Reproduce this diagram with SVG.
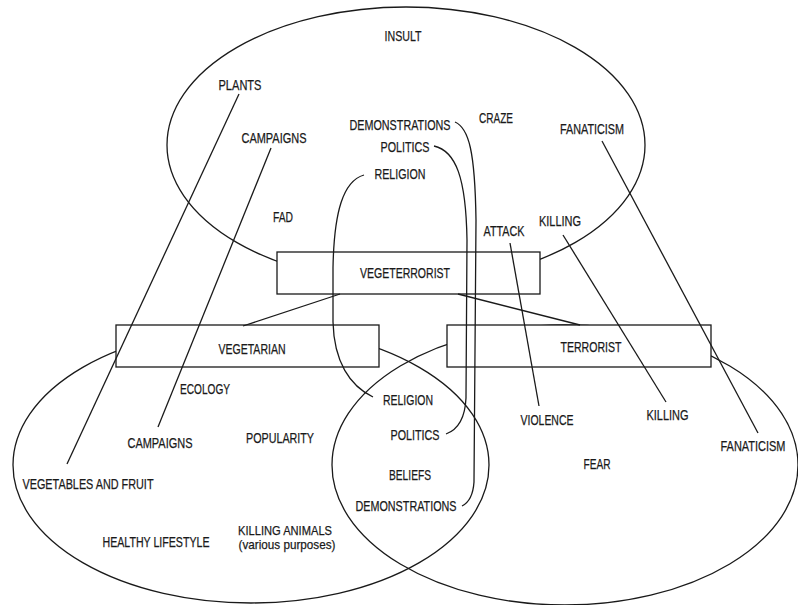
<svg xmlns="http://www.w3.org/2000/svg" width="798" height="605" viewBox="0 0 798 605">
  <style>
    .shape { fill: none; stroke: #1a1a1a; stroke-width: 1.3; }
    .box { fill: #ffffff; stroke: #1a1a1a; stroke-width: 1.3; }
    .link { fill: none; stroke: #1a1a1a; stroke-width: 1.3; }
    text { font-family: "Liberation Sans", Arial, sans-serif; font-size: 14px; fill: #1a1a1a; stroke: #1a1a1a; stroke-width: 0.25; text-anchor: middle; }
    .note { font-size: 13.5px; }
  </style>
  <rect width="798" height="605" fill="#ffffff"/>

  <!-- association fields -->
  <g id="field-vegeterrorist">
    <ellipse class="shape" cx="406" cy="145" rx="239" ry="138"/>
  </g>
  <g id="field-vegetarian">
    <ellipse class="shape" cx="251" cy="465" rx="238" ry="138"/>
  </g>
  <g id="field-terrorist">
    <ellipse class="shape" cx="565" cy="465" rx="233" ry="140"/>
  </g>

  <!-- central concepts -->
  <g id="node-vegeterrorist">
    <rect class="box" x="277" y="252" width="263" height="42"/>
    <text x="405" y="278" textLength="90" lengthAdjust="spacingAndGlyphs">VEGETERRORIST</text>
  </g>
  <g id="node-vegetarian">
    <rect class="box" x="116" y="325" width="263" height="42"/>
    <text x="252" y="354" textLength="67" lengthAdjust="spacingAndGlyphs">VEGETARIAN</text>
  </g>
  <g id="node-terrorist">
    <rect class="box" x="447" y="325" width="264" height="42"/>
    <text x="591" y="352" textLength="61" lengthAdjust="spacingAndGlyphs">TERRORIST</text>
  </g>

  <!-- connectors -->
  <g id="connectors">
    <line class="link" x1="340" y1="294" x2="243" y2="326"/>
    <line class="link" x1="458" y1="294" x2="580" y2="325"/>
    <line class="link" x1="239" y1="94" x2="67" y2="464"/>
    <line class="link" x1="271" y1="148" x2="158" y2="427"/>
    <line class="link" x1="602" y1="141" x2="758" y2="433"/>
    <line class="link" x1="563" y1="235" x2="666" y2="402"/>
    <line class="link" x1="510" y1="243" x2="539" y2="406"/>
    <path class="link" d="M364,175 C343,181 334,212 333,268 L333,322 C334,362 350,386 373,397"/>
    <path class="link" d="M434,146 C456,151 466,178 467,240 L466,398 C465,420 457,430 446,434"/>
    <path class="link" d="M455,122 C469,128 475,152 476,220 L474,482 C473,497 468,503 462,506"/>
  </g>

  <!-- labels -->
  <g id="labels-upper">
    <text x="403" y="40.5" textLength="37" lengthAdjust="spacingAndGlyphs">INSULT</text>
    <text x="240" y="90" textLength="43" lengthAdjust="spacingAndGlyphs">PLANTS</text>
    <text x="274" y="142.5" textLength="65" lengthAdjust="spacingAndGlyphs">CAMPAIGNS</text>
    <text x="400" y="130" textLength="101" lengthAdjust="spacingAndGlyphs">DEMONSTRATIONS</text>
    <text x="496" y="122.5" textLength="34" lengthAdjust="spacingAndGlyphs">CRAZE</text>
    <text x="405" y="151.5" textLength="49" lengthAdjust="spacingAndGlyphs">POLITICS</text>
    <text x="400" y="179" textLength="51" lengthAdjust="spacingAndGlyphs">RELIGION</text>
    <text x="283" y="221.5" textLength="20" lengthAdjust="spacingAndGlyphs">FAD</text>
    <text x="504" y="236" textLength="41" lengthAdjust="spacingAndGlyphs">ATTACK</text>
    <text x="560" y="226" textLength="42" lengthAdjust="spacingAndGlyphs">KILLING</text>
    <text x="592" y="134" textLength="64" lengthAdjust="spacingAndGlyphs">FANATICISM</text>
  </g>
  <g id="labels-vegetarian">
    <text x="205" y="394" textLength="50" lengthAdjust="spacingAndGlyphs">ECOLOGY</text>
    <text x="160" y="447.5" textLength="65" lengthAdjust="spacingAndGlyphs">CAMPAIGNS</text>
    <text x="280" y="443" textLength="68" lengthAdjust="spacingAndGlyphs">POPULARITY</text>
    <text x="88" y="488.5" textLength="131" lengthAdjust="spacingAndGlyphs">VEGETABLES AND FRUIT</text>
    <text x="156" y="546.5" textLength="107" lengthAdjust="spacingAndGlyphs">HEALTHY LIFESTYLE</text>
    <text class="note" x="285" y="534.5" textLength="94" lengthAdjust="spacingAndGlyphs">KILLING ANIMALS</text>
    <text class="note" x="287" y="549" textLength="97" lengthAdjust="spacingAndGlyphs">(various purposes)</text>
  </g>
  <g id="labels-shared">
    <text x="408" y="404.5" textLength="50" lengthAdjust="spacingAndGlyphs">RELIGION</text>
    <text x="415" y="439.5" textLength="49" lengthAdjust="spacingAndGlyphs">POLITICS</text>
    <text x="410" y="479.5" textLength="42" lengthAdjust="spacingAndGlyphs">BELIEFS</text>
    <text x="406" y="510.5" textLength="101" lengthAdjust="spacingAndGlyphs">DEMONSTRATIONS</text>
  </g>
  <g id="labels-terrorist">
    <text x="547" y="424.5" textLength="53" lengthAdjust="spacingAndGlyphs">VIOLENCE</text>
    <text x="667.5" y="419.5" textLength="42" lengthAdjust="spacingAndGlyphs">KILLING</text>
    <text x="753" y="450.5" textLength="65" lengthAdjust="spacingAndGlyphs">FANATICISM</text>
    <text x="597" y="468.5" textLength="27" lengthAdjust="spacingAndGlyphs">FEAR</text>
  </g>
</svg>
